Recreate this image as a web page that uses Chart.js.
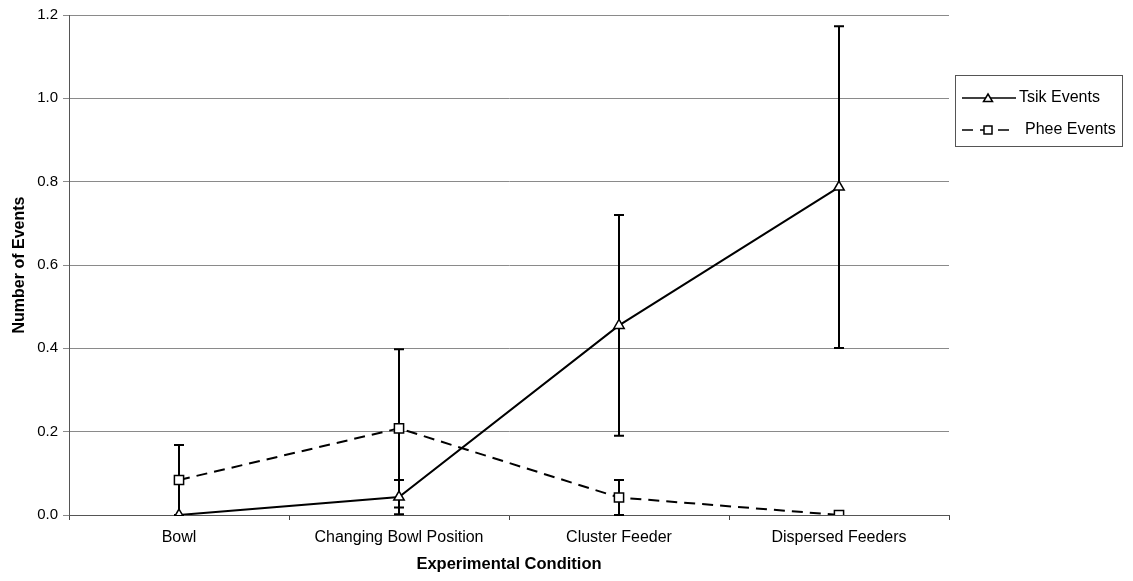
<!DOCTYPE html>
<html>
<head>
<meta charset="utf-8">
<script src="https://cdn.jsdelivr.net/npm/chart.js@4/dist/chart.umd.min.js"></script>
<style>
  html, body { margin: 0; padding: 0; background: #fff; }
  #wrap { width: 1133px; height: 581px; }
</style>
</head>
<body>
<div id="wrap"><canvas id="eventsChart" width="1133" height="581"></canvas></div>
<script>
// Mean number of calls per condition, with standard error
const categories = ["Bowl", "Changing Bowl Position", "Cluster Feeder", "Dispersed Feeders"];
const tsikValues = [0, 0.043, 0.455, 0.787];
const tsikErrors = [0, 0.041, 0.265, 0.386];
const pheeValues = [0.084, 0.208, 0.042, 0];
const pheeErrors = [0.084, 0.19, 0.042, 0];
const yTicks = [0, 0.2, 0.4, 0.6, 0.8, 1.0, 1.2];

const FONT = "'Liberation Sans', Arial, sans-serif";

// vertical error bars with flat caps, drawn under the lines
const errorBars = {
  id: "errorBars",
  beforeDatasetsDraw(chart) {
    const ctx = chart.ctx;
    const x = chart.scales.x, y = chart.scales.y;
    ctx.save();
    ctx.strokeStyle = "#000";
    ctx.lineWidth = 2;
    chart.data.datasets.forEach(ds => {
      ds.errors.forEach((err, i) => {
        if (!err) return;
        const px = x.getPixelForValue(i);
        const top = y.getPixelForValue(ds.data[i] + err);
        const bot = y.getPixelForValue(Math.max(0, ds.data[i] - err));
        ctx.beginPath();
        ctx.moveTo(px, top); ctx.lineTo(px, bot);
        ctx.moveTo(px - 5, top); ctx.lineTo(px + 5, top);
        ctx.moveTo(px - 5, bot); ctx.lineTo(px + 5, bot);
        ctx.stroke();
      });
    });
    ctx.restore();
  }
};

// boxed legend to the right of the plot, line sample with marker
const boxLegend = {
  id: "boxLegend",
  afterDraw(chart) {
    const ctx = chart.ctx;
    const bx = 955, by = 75, bw = 167, bh = 71;
    ctx.save();
    ctx.strokeStyle = "#555";
    ctx.lineWidth = 1;
    ctx.strokeRect(bx + 0.5, by + 0.5, bw, bh);
    chart.data.datasets.forEach((ds, i) => {
      const cy = by + 23 + i * 32;
      ctx.strokeStyle = "#000";
      ctx.lineWidth = 1.5;
      ctx.setLineDash(ds.borderDash || []);
      ctx.beginPath();
      ctx.moveTo(962, cy); ctx.lineTo(1016, cy);
      ctx.stroke();
      ctx.setLineDash([]);
      ctx.fillStyle = "#fff";
      ctx.beginPath();
      if (ds.pointStyle === "triangle") {
        ctx.moveTo(988, cy - 4); ctx.lineTo(992.5, cy + 3.5); ctx.lineTo(983.5, cy + 3.5); ctx.closePath();
      } else {
        ctx.rect(984, cy - 4, 8, 8);
      }
      ctx.fill(); ctx.stroke();
      ctx.fillStyle = "#000";
      ctx.font = "16px " + FONT;
      ctx.textBaseline = "middle";
      ctx.textAlign = "left";
      ctx.fillText(ds.label, i === 0 ? 1019 : 1025, cy);
    });
    ctx.restore();
  }
};

new Chart(document.getElementById("eventsChart"), {
  type: "line",
  data: {
    labels: categories,
    datasets: [
      {
        label: "Tsik Events",
        data: tsikValues,
        errors: tsikErrors,
        borderColor: "#000",
        borderWidth: 2,
        pointStyle: "triangle",
        pointRadius: 6,
        pointBorderWidth: 1.5,
        pointBackgroundColor: "#fff",
        pointBorderColor: "#000",
        tension: 0
      },
      {
        label: "Phee Events",
        data: pheeValues,
        errors: pheeErrors,
        borderColor: "#000",
        borderWidth: 2,
        borderDash: [11, 7],
        pointStyle: "rect",
        pointRadius: 6.5,
        pointBorderWidth: 1.5,
        pointBackgroundColor: "#fff",
        pointBorderColor: "#000",
        tension: 0
      }
    ]
  },
  options: {
    responsive: false,
    animation: false,
    layout: { padding: { top: 15, right: 184, bottom: 0, left: 0 } },
    plugins: { legend: { display: false }, tooltip: { enabled: false } },
    scales: {
      x: {
        offset: true,
        afterFit(scale) { scale.height = 66; },
        grid: { offset: true, drawOnChartArea: false, color: "#444", tickLength: 5 },
        border: { color: "#555", width: 1 },
        ticks: { color: "#000", font: { family: FONT, size: 16 }, padding: 8, maxRotation: 0 },
        title: {
          display: true, text: "Experimental Condition", color: "#000",
          font: { family: FONT, size: 16.5, weight: "bold" }, padding: { top: 0, bottom: 7 }
        }
      },
      y: {
        min: 0, max: 1.2,
        afterFit(scale) { scale.width = 69; },
        afterBuildTicks(scale) { scale.ticks = yTicks.map(v => ({ value: v })); },
        grid: { color: "#8a8a8a", lineWidth: 1, tickLength: 6 },
        border: { color: "#555", width: 1 },
        ticks: {
          color: "#000", font: { family: FONT, size: 15 }, padding: 5,
          callback: v => v.toFixed(1)
        },
        title: {
          display: true, text: "Number of Events", color: "#000",
          font: { family: FONT, size: 16, weight: "bold" }, padding: { top: 10, bottom: 0 }
        }
      }
    }
  },
  plugins: [errorBars, boxLegend]
});
</script>
</body>
</html>
